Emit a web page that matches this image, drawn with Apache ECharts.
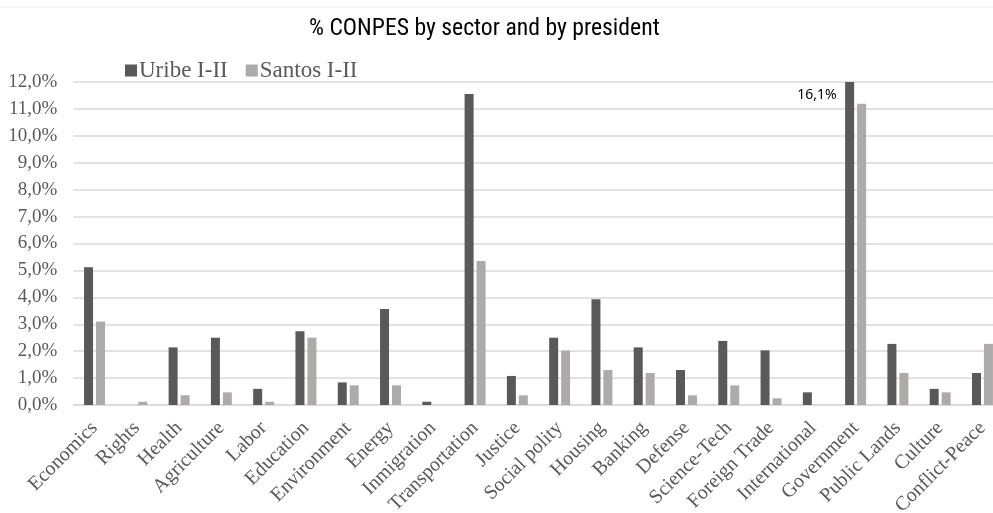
<!DOCTYPE html>
<html><head><meta charset="utf-8">
<script src="https://cdn.jsdelivr.net/npm/echarts@6/dist/echarts.min.js"></script>
<style>html,body{margin:0;padding:0;background:#fff}#c{width:993px;height:513px}</style>
</head><body><div id="c"></div>
<script>
const categories = ['Economics','Rights','Health','Agriculture','Labor','Education','Environment','Energy','Inmigration','Transportation','Justice','Social polity','Housing','Banking','Defense','Science-Tech','Foreign Trade','International','Government','Public Lands','Culture','Conflict-Peace'];
const uribe  = [5.12, 0, 2.14, 2.5, 0.6, 2.74, 0.84, 3.57, 0.12, 11.55, 1.08, 2.5, 3.93, 2.14, 1.3, 2.38, 2.03, 0.47, 16.1, 2.27, 0.6, 1.19];
const santos = [3.1, 0.12, 0.36, 0.47, 0.12, 2.5, 0.73, 0.73, 0, 5.35, 0.36, 2.02, 1.3, 1.19, 0.36, 0.73, 0.25, 0, 11.19, 1.19, 0.47, 2.27];
const seriesNames = ['Uribe I-II', 'Santos I-II'];
const annotation = '16,1%';

const chart = echarts.init(document.getElementById('c'), null, {renderer: 'canvas'});
const serif = '"Liberation Serif", "DejaVu Serif", serif';
chart.setOption({
  animation: false,
  backgroundColor: '#fff',
  title: {
    text: '% CONPES by sector and by president',
    left: 304, top: 12,
    textStyle: {fontFamily: '"Roboto Condensed", "Liberation Sans Narrow", "DejaVu Sans Condensed", sans-serif', fontSize: 23.7, fontWeight: 'normal', color: '#000'}
  },
  legend: {
    left: 120, top: 54,
    itemWidth: 12, itemHeight: 12, itemGap: 18,
    icon: 'rect',
    textStyle: {fontFamily: serif, fontSize: 23, color: '#595959', padding: [0,0,0,-3]},
    data: seriesNames
  },
  grid: {left: 73.4, right: -10.6, top: 82, bottom: 108, containLabel: false, outerBoundsMode: 'none'},
  xAxis: {
    type: 'category', data: categories,
    axisLine: {lineStyle: {color: '#d9d9d9', width: 1.5}},
    axisTick: {show: false},
    axisLabel: {rotate: 45, interval: 0, fontFamily: serif, fontSize: 20, color: '#595959', margin: 20}
  },
  yAxis: {
    type: 'value', min: 0, max: 12, interval: 1,
    axisLine: {show: false}, axisTick: {show: false},
    splitLine: {lineStyle: {color: '#d9d9d9', width: 1.5}},
    axisLabel: {fontFamily: serif, fontSize: 19, color: '#595959', margin: 16,
      formatter: v => v.toFixed(1).replace('.', ',') + '%'}
  },
  series: [
    {name: seriesNames[0], type: 'bar', data: uribe, barWidth: 9, barGap: '33%',
     itemStyle: {color: '#595959'}, clip: true,
     markPoint: {symbol: 'rect', symbolSize: 0,
       data: [{coord: ['Government', 12], value: annotation}],
       label: {show: true, position: 'left', distance: 0, offset: [-13, 13], formatter: annotation,
         fontFamily: '"Noto Sans", "Open Sans", sans-serif', fontSize: 14, color: '#000'}}},
    {name: seriesNames[1], type: 'bar', data: santos, barWidth: 9,
     itemStyle: {color: '#aeaaaa'}, clip: true}
  ],
  graphic: [{type: 'line', shape: {x1: 0, y1: 7, x2: 993, y2: 7}, style: {stroke: '#ececec', lineWidth: 1}}]
});
</script></body></html>
